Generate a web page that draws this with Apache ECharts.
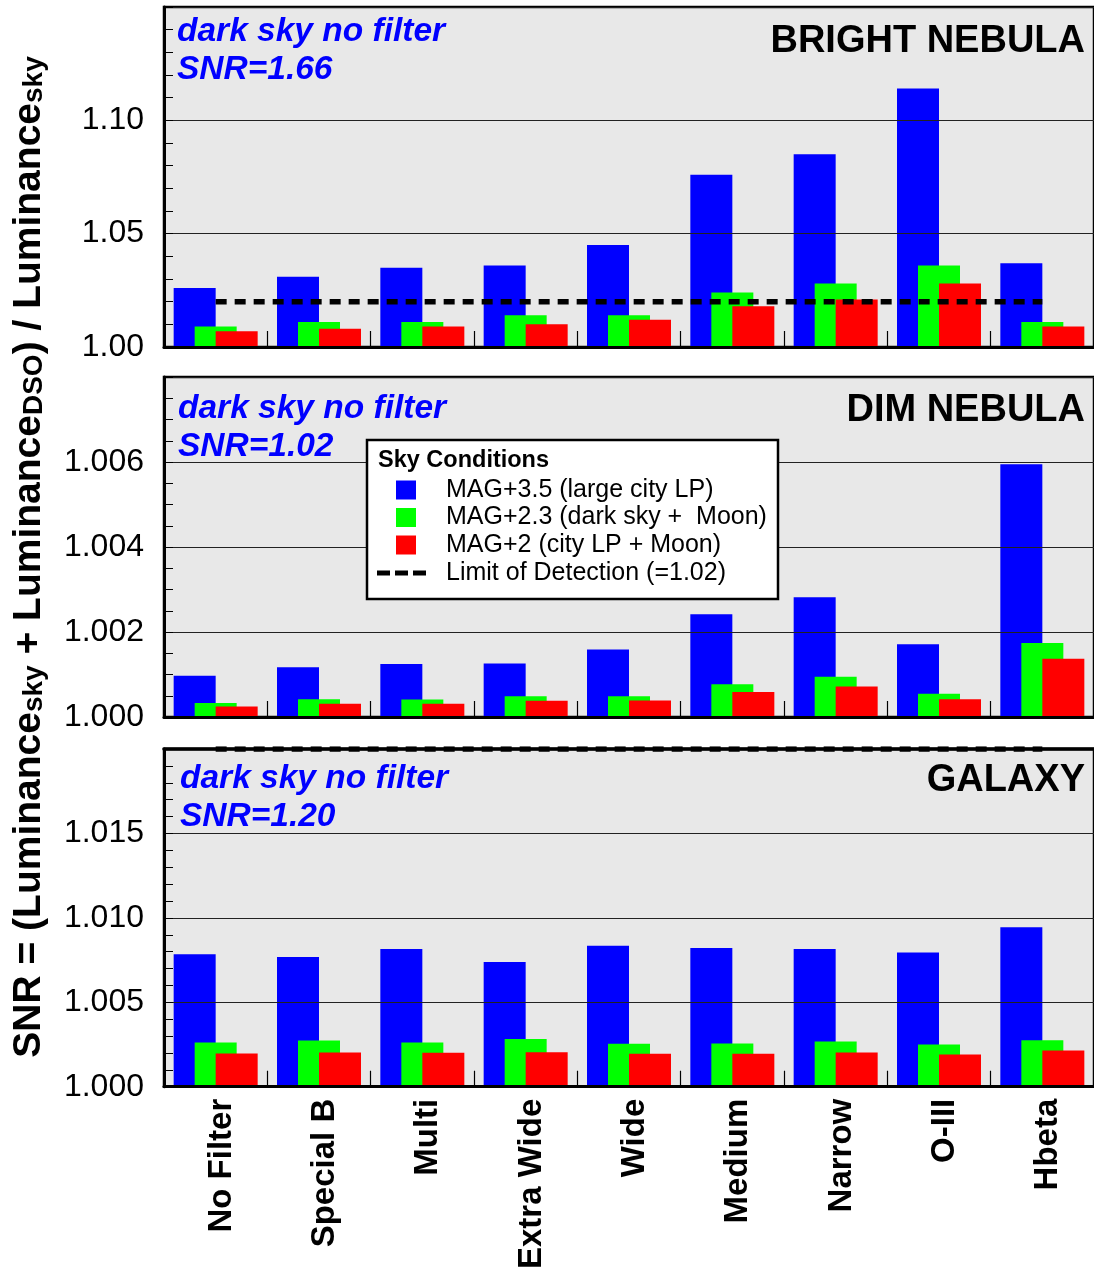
<!DOCTYPE html>
<html>
<head>
<meta charset="utf-8">
<script src="https://cdn.jsdelivr.net/npm/echarts@6/dist/echarts.min.js"></script>
<style>
  html, body { margin: 0; padding: 0; background: #ffffff; }
  #chart { width: 1094px; height: 1272px; }
</style>
</head>
<body>
<div id="chart"></div>
<script>
// Filters compared along the x axis
const categories = ['No Filter', 'Special B', 'Multi', 'Extra Wide', 'Wide', 'Medium', 'Narrow', 'O-III', 'Hbeta'];

// Sky condition series names
const NAME_CITY = 'MAG+3.5 (large city LP)';
const NAME_DARK_MOON = 'MAG+2.3 (dark sky +  Moon)';
const NAME_CITY_MOON = 'MAG+2 (city LP + Moon)';
const NAME_LIMIT = 'Limit of Detection (=1.02)';

// SNR threshold for detection
const limitOfDetection = 1.02;

// BRIGHT NEBULA
const brightCity     = [1.026, 1.031, 1.035, 1.036, 1.045, 1.076, 1.085, 1.114, 1.037];
const brightDarkMoon = [1.009, 1.011, 1.011, 1.014, 1.014, 1.024, 1.028, 1.036, 1.011];
const brightCityMoon = [1.007, 1.008, 1.009, 1.010, 1.012, 1.018, 1.021, 1.028, 1.009];

// DIM NEBULA
const dimCity     = [1.00097, 1.00117, 1.00125, 1.00126, 1.00159, 1.00242, 1.00282, 1.00171, 1.00595];
const dimDarkMoon = [1.00033, 1.00042, 1.00041, 1.00049, 1.00049, 1.00077, 1.00095, 1.00055, 1.00174];
const dimCityMoon = [1.00025, 1.00031, 1.00031, 1.00038, 1.00039, 1.00059, 1.00072, 1.00042, 1.00137];

// GALAXY
const galaxyCity     = [1.00785, 1.00768, 1.00815, 1.00738, 1.00835, 1.00821, 1.00815, 1.00795, 1.00945];
const galaxyDarkMoon = [1.00262, 1.00274, 1.00262, 1.00282, 1.00255, 1.00256, 1.00268, 1.00250, 1.00276];
const galaxyCityMoon = [1.00197, 1.00203, 1.00201, 1.00205, 1.00195, 1.00195, 1.00203, 1.00191, 1.00215];

// Value-axis ranges for each panel
const brightAxis = { min: 1.00, max: 1.15, interval: 0.05, minor: 5, digits: 2 };
const dimAxis    = { min: 1.000, max: 1.008, interval: 0.002, minor: 4, digits: 3 };
const galaxyAxis = { min: 1.000, max: 1.020, interval: 0.005, minor: 5, digits: 3 };

// Panel headings and reference SNR notes
const panelTitles = ['BRIGHT NEBULA', 'DIM NEBULA', 'GALAXY'];
const panelNotes  = ['SNR=1.66', 'SNR=1.02', 'SNR=1.20'];
const noteCaption = 'dark sky no filter';

const FONT = '"Liberation Sans", Arial, Helvetica, sans-serif';
const COLORS = { city: '#0000ff', darkMoon: '#00ff00', cityMoon: '#ff0000' };

const panels = [
  { top: 7,   height: 340, axis: brightAxis, city: brightCity, darkMoon: brightDarkMoon, cityMoon: brightCityMoon },
  { top: 377, height: 340, axis: dimAxis,    city: dimCity,    darkMoon: dimDarkMoon,    cityMoon: dimCityMoon },
  { top: 749, height: 339, axis: galaxyAxis, city: galaxyCity, darkMoon: galaxyDarkMoon, cityMoon: galaxyCityMoon }
];

const grid = [], xAxis = [], yAxis = [], series = [];

panels.forEach((p, i) => {
  const last = i === panels.length - 1;
  grid.push({
    left: 164, right: -2, top: p.top, height: p.height,
    show: true, backgroundColor: '#e8e8e8', borderColor: '#000', borderWidth: 2.5
  });
  xAxis.push({
    type: 'category', gridIndex: i, data: categories, boundaryGap: true, z: 3,
    axisLine: { show: true, lineStyle: { color: '#000', width: 3 } },
    axisTick: { show: true, inside: true, length: 16, interval: 0, lineStyle: { color: '#000', width: 1.2 } },
    axisLabel: last ? {
      show: true, rotate: 90, interval: 0, margin: 12, color: '#000',
      formatter: (v) => '{c|' + v + '}',
      rich: { c: { fontSize: 33, fontWeight: 'bold', fontFamily: FONT, color: '#000', padding: [12, 0, 0, 0] } }
    } : { show: false },
    splitLine: { show: false }
  });
  yAxis.push({
    type: 'value', gridIndex: i, z: 3,
    min: p.axis.min, max: p.axis.max, interval: p.axis.interval, startValue: p.axis.min,
    axisLine: { show: true, lineStyle: { color: '#000', width: 3 } },
    axisTick: { show: true, inside: true, length: 9, lineStyle: { color: '#000', width: 1 } },
    minorTick: { show: true, splitNumber: p.axis.minor, length: 9, lineStyle: { color: '#000', width: 1 } },
    splitLine: { show: true, lineStyle: { color: '#222', width: 1.2 } },
    axisLabel: {
      show: true, showMaxLabel: false, margin: 20, color: '#000',
      fontSize: 32, fontFamily: FONT,
      formatter: (v) => v.toFixed(p.axis.digits)
    }
  });
  const barCommon = {
    type: 'bar', xAxisIndex: i, yAxisIndex: i, barWidth: 42, barGap: '-50%',
    clip: true, silent: true, animation: false
  };
  series.push(Object.assign({ name: NAME_CITY, data: p.city, z: 2, itemStyle: { color: COLORS.city } }, barCommon));
  series.push(Object.assign({ name: NAME_DARK_MOON, data: p.darkMoon, z: 2, itemStyle: { color: COLORS.darkMoon } }, barCommon));
  series.push(Object.assign({ name: NAME_CITY_MOON, data: p.cityMoon, z: 2, itemStyle: { color: COLORS.cityMoon } }, barCommon));
  series.push({
    name: NAME_LIMIT, type: 'line', xAxisIndex: i, yAxisIndex: i,
    data: categories.map(() => limitOfDetection),
    color: '#000', symbol: 'none', z: 5, silent: true, animation: false, clip: true,
    lineStyle: { color: '#000', width: 5.5, type: [11, 8] }
  });
});

// Top frame edge of the last panel, drawn over the limit line that sits on its upper bound
xAxis.push({
  type: 'category', gridIndex: 2, data: categories, position: 'top', z: 6,
  axisLine: { show: true, lineStyle: { color: '#000', width: 3.5 } },
  axisTick: { show: false }, axisLabel: { show: false }, splitLine: { show: false }
});

const graphic = [];

// Legend frame and heading
graphic.push({
  type: 'rect', z: 6, shape: { x: 367, y: 440, width: 411, height: 159 },
  style: { fill: '#ffffff', stroke: '#000', lineWidth: 2.5 }
});
graphic.push({
  type: 'text', z: 7, x: 378, y: 461,
  style: { text: 'Sky Conditions', font: 'bold 23.5px ' + FONT, fill: '#000', textAlign: 'left', textVerticalAlign: 'middle' }
});

// Shared y-axis title with subscripts
graphic.push({
  type: 'text', z: 7, x: 29, y: 557, rotation: Math.PI / 2,
  style: {
    text: '{m|SNR = (Luminance}{s|sky}{m| + Luminance}{d|DSO}{m|) / Luminance}{s|sky}',
    textAlign: 'center', textVerticalAlign: 'middle', fill: '#000',
    rich: {
      m: { fontSize: 39, fontWeight: 'bold', fontFamily: FONT, lineHeight: 39, fill: '#000' },
      s: { fontSize: 28, fontWeight: 'bold', fontFamily: FONT, lineHeight: 20, verticalAlign: 'bottom', fill: '#000' },
      d: { fontSize: 28, fontWeight: 'bold', fontFamily: FONT, lineHeight: 25, verticalAlign: 'bottom', fill: '#000' }
    }
  }
});

// Panel headings and notes
const titleY = [42, 411, 781];
const captionX = [177, 178, 180];
const captionY = [32, 409, 779];
panelTitles.forEach((t, i) => {
  graphic.push({
    type: 'text', z: 7, x: 1085, y: titleY[i],
    style: { text: t, font: 'bold 38px ' + FONT, fill: '#000', textAlign: 'right', textVerticalAlign: 'middle' }
  });
  graphic.push({
    type: 'text', z: 7, x: captionX[i], y: captionY[i],
    style: { text: noteCaption, font: 'italic bold 33.5px ' + FONT, fill: '#0000ff', textAlign: 'left', textVerticalAlign: 'middle' }
  });
  graphic.push({
    type: 'text', z: 7, x: captionX[i], y: captionY[i] + 37.5,
    style: { text: panelNotes[i], font: 'italic bold 33.5px ' + FONT, fill: '#0000ff', textAlign: 'left', textVerticalAlign: 'middle' }
  });
});

const legendText = { fontSize: 25, color: '#000', fontFamily: FONT };

const option = {
  backgroundColor: '#ffffff',
  animation: false,
  grid, xAxis, yAxis, series, graphic,
  legend: [
    {
      data: [NAME_CITY, NAME_DARK_MOON, NAME_CITY_MOON],
      orient: 'vertical', left: 396, top: 477.5, padding: 0,
      itemWidth: 20, itemHeight: 19, itemGap: 2.5, icon: 'rect',
      selectedMode: false, z: 8,
      textStyle: Object.assign({ padding: [0, 0, 0, 25] }, legendText)
    },
    {
      data: [{ name: NAME_LIMIT, icon: 'path://M0,0H13V5H0Z M18,0H31V5H18Z M36,0H49V5H36Z' }],
      orient: 'vertical', left: 377, top: 560.5, padding: 0,
      itemWidth: 49, itemHeight: 5, selectedMode: false, z: 8,
      itemStyle: { color: '#000' },
      textStyle: Object.assign({ padding: [0, 0, 0, 15] }, legendText)
    }
  ]
};

const chart = echarts.init(document.getElementById('chart'), null, { renderer: 'canvas' });
chart.setOption(option);
</script>
</body>
</html>
